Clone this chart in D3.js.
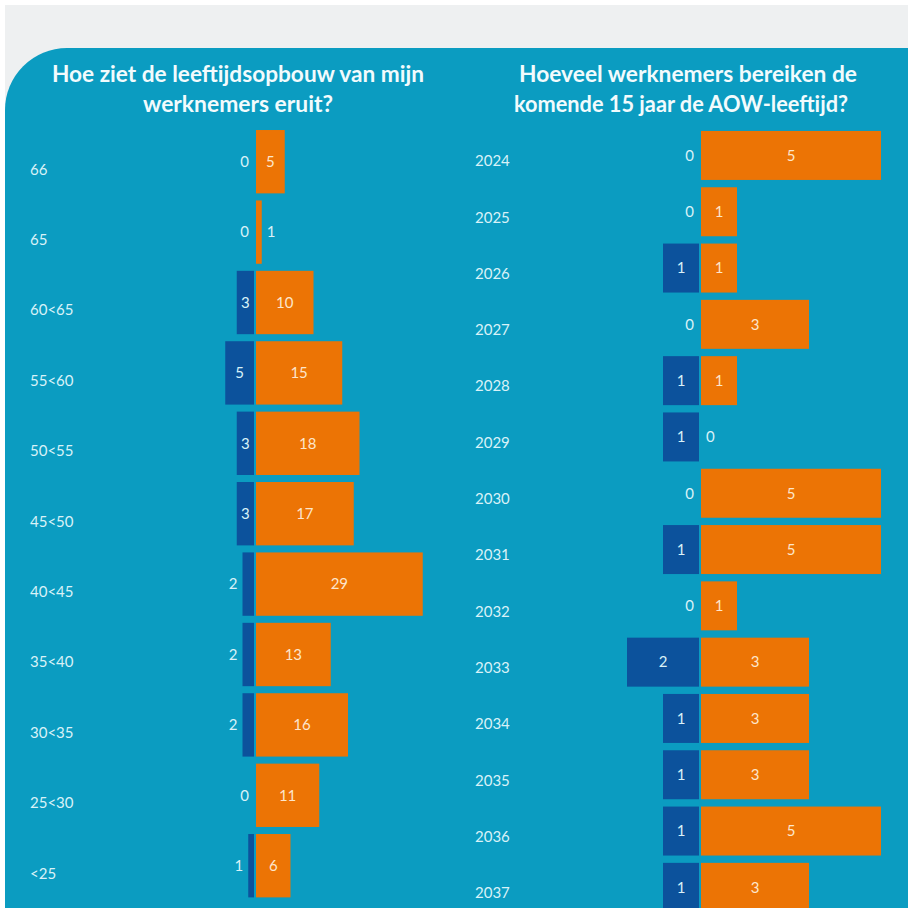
<!DOCTYPE html>
<html>
<head>
<meta charset="utf-8">
<script src="https://cdn.jsdelivr.net/npm/d3@7/dist/d3.min.js"></script>
<style>
  body { margin: 0; background: #fff; }
  svg { display: block; font-family: Lato, 'Open Sans', sans-serif; }
</style>
</head>
<body>
<svg id="chart" width="914" height="908"></svg>
<script>
// Leeftijdsopbouw (links) en AOW-leeftijd per jaar (rechts)
const ageGroups = ['66', '65', '60<65', '55<60', '50<55', '45<50', '40<45', '35<40', '30<35', '25<30', '<25'];
const ageBlue = [0, 0, 3, 5, 3, 3, 2, 2, 2, 0, 1];
const ageOrange = [5, 1, 10, 15, 18, 17, 29, 13, 16, 11, 6];

const years = ['2024', '2025', '2026', '2027', '2028', '2029', '2030', '2031', '2032', '2033', '2034', '2035', '2036', '2037'];
const yearBlue = [0, 0, 1, 0, 1, 1, 0, 1, 0, 2, 1, 1, 1, 1];
const yearOrange = [5, 1, 1, 3, 1, 0, 5, 5, 1, 3, 3, 3, 5, 3];

const leftTitle = ['Hoe ziet de leeftijdsopbouw van mijn', 'werknemers eruit?'];
const rightTitle = ['Hoeveel werknemers bereiken de', 'komende 15 jaar de AOW-leeftijd?'];

const teal = '#0b9cc1';
const orange = '#ec7405';
const blue = '#0c529c';
const labelColor = '#d9f2f8';

const svg = d3.select('#chart');

// background: grey strip with teal panel (rounded top-left corner)
svg.append('rect')
  .attr('x', 5).attr('y', 5)
  .attr('width', 903).attr('height', 903)
  .attr('fill', '#eef0f1');

svg.append('path')
  .attr('d', 'M5,908 L5,110 A62,62 0 0 1 67,48 L908,48 L908,908 Z')
  .attr('fill', teal);

function drawTitle(lines, spans) {
  lines.forEach((line, i) => {
    svg.append('text')
      .attr('x', spans[i][0])
      .attr('y', 82 + i * 30)
      .attr('textLength', spans[i][1] - spans[i][0])
      .attr('lengthAdjust', 'spacingAndGlyphs')
      .style('fill', '#f2fbfd')
      .style('font-size', '23px')
      .style('font-weight', 'bold')
      .text(line);
  });
}

drawTitle(leftTitle, [[52, 424], [143, 333]]);
drawTitle(rightTitle, [[519, 857], [514, 848]]);

function drawPyramid(opts) {
  const { cats, left, right, yRange, pad, zero, unit, labelX, labelDy } = opts;

  const y = d3.scaleBand()
    .domain(cats)
    .range(yRange)
    .paddingInner(pad)
    .paddingOuter(pad / 2);

  const x = d3.scaleLinear()
    .domain([0, 1])
    .range([0, unit]);

  const g = svg.append('g');
  const rows = cats.map((c, i) => ({ cat: c, b: left[i], o: right[i] }));

  g.selectAll('.bar-blue')
    .data(rows)
    .enter()
    .append('rect')
    .attr('class', 'bar-blue')
    .attr('x', d => zero - 2 - x(d.b))
    .attr('y', d => y(d.cat))
    .attr('width', d => x(d.b))
    .attr('height', y.bandwidth())
    .attr('fill', blue);

  g.selectAll('.bar-orange')
    .data(rows)
    .enter()
    .append('rect')
    .attr('class', 'bar-orange')
    .attr('x', zero)
    .attr('y', d => y(d.cat))
    .attr('width', d => x(d.o))
    .attr('height', y.bandwidth())
    .attr('fill', orange);

  // value labels: inside the bar when it is wide enough, otherwise beside it
  g.selectAll('.lbl-blue')
    .data(rows)
    .enter()
    .append('text')
    .attr('class', 'lbl-blue')
    .attr('x', d => x(d.b) >= 14 ? zero - 2 - x(d.b) / 2 : zero - 2 - x(d.b) - 5)
    .attr('y', d => y(d.cat) + y.bandwidth() / 2)
    .attr('dy', '.35em')
    .style('text-anchor', d => x(d.b) >= 14 ? 'middle' : 'end')
    .style('fill', labelColor)
    .style('font-size', '15px')
    .text(d => d.b);

  g.selectAll('.lbl-orange')
    .data(rows)
    .enter()
    .append('text')
    .attr('class', 'lbl-orange')
    .attr('x', d => x(d.o) >= 14 ? zero + x(d.o) / 2 : zero + x(d.o) + 5)
    .attr('y', d => y(d.cat) + y.bandwidth() / 2)
    .attr('dy', '.35em')
    .style('text-anchor', d => x(d.o) >= 14 ? 'middle' : 'start')
    .style('fill', d => x(d.o) >= 14 ? '#fde6cc' : labelColor)
    .style('font-size', '15px')
    .text(d => d.o);

  // category axis on the far left
  const axis = svg.append('g')
    .attr('transform', `translate(${labelX},${labelDy})`)
    .call(d3.axisRight(y).tickSize(0).tickPadding(0));
  axis.select('.domain').remove();
  axis.selectAll('text')
    .style('fill', labelColor)
    .style('font-size', '15px')
    .style('font-family', 'Lato, sans-serif');
}

drawPyramid({
  cats: ageGroups, left: ageBlue, right: ageOrange,
  yRange: [126.5, 900.9], pad: 0.1,
  zero: 256, unit: 5.75, labelX: 30, labelDy: 8
});

drawPyramid({
  cats: years, left: yearBlue, right: yearOrange,
  yRange: [127.3, 915.5], pad: 0.13,
  zero: 701, unit: 36, labelX: 475, labelDy: 6
});
</script>
</body>
</html>
